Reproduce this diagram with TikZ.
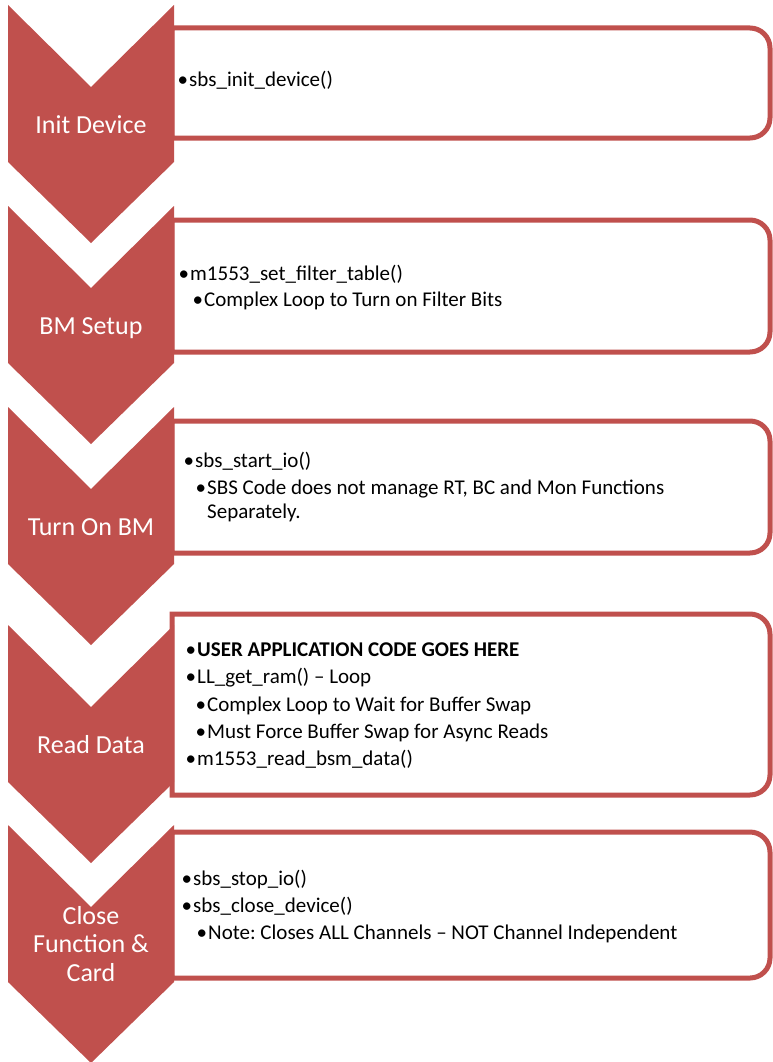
\documentclass[tikz,border=0pt]{standalone}
\usepackage{fontspec}
\setmainfont{Carlito}
\usetikzlibrary{positioning}
\definecolor{chevred}{HTML}{C0504D}
\frenchspacing

\begin{document}
\begin{tikzpicture}[x=1pt,y=-1pt,
	chev/.style={fill=chevred},
	stepbox/.style={draw=chevred,line width=5pt,fill=white},
	steplbl/.style={text=white,inner sep=0pt,align=center,font=\fontsize{26}{28.5}\selectfont},
	item/.style={anchor=base west,inner sep=0pt,font=\fontsize{21}{24}\selectfont}]
		\useasboundingbox (0,0) rectangle (773,1062);
		% boxes on the right
		\draw [stepbox] (172,28) -- (750,28) .. controls (761,28) and (770,37) .. (770,48) -- (770,118) .. controls (770,129) and (761,138) .. (750,138) -- (172,138) -- cycle;
		\draw [stepbox] (172,220) -- (750,220) .. controls (761,220) and (770,229) .. (770,240) -- (770,332) .. controls (770,343) and (761,352) .. (750,352) -- (172,352) -- cycle;
		\draw [stepbox] (172,421) -- (750,421) .. controls (761,421) and (770,430) .. (770,441) -- (770,533) .. controls (770,544) and (761,553) .. (750,553) -- (172,553) -- cycle;
		\draw [stepbox] (172,614) -- (750,614) .. controls (761,614) and (770,623) .. (770,634) -- (770,775) .. controls (770,786) and (761,795) .. (750,795) -- (172,795) -- cycle;
		\draw [stepbox] (172,832) -- (750,832) .. controls (761,832) and (770,841) .. (770,852) -- (770,958) .. controls (770,969) and (761,978) .. (750,978) -- (172,978) -- cycle;
		% chevrons
		\fill [chev] (8,5) -- (91,87) -- (174,5) -- (174,162) -- (91,243) -- (8,162) -- cycle;
		\fill [chev] (8,206) -- (91,288) -- (174,206) -- (174,363) -- (91,444) -- (8,363) -- cycle;
		\fill [chev] (8,407) -- (91,489) -- (174,407) -- (174,564) -- (91,645) -- (8,564) -- cycle;
		\fill [chev] (8,625) -- (91,707) -- (174,625) -- (174,782) -- (91,863) -- (8,782) -- cycle;
		\fill [chev] (8,825) -- (91,907) -- (174,825) -- (174,982) -- (91,1063) -- (8,982) -- cycle;
		\node [steplbl,anchor=base] (init) at (91,133) {Init Device};
		\node [steplbl,anchor=base] (setup) at (91,334) {BM Setup};
		\node [steplbl,anchor=base] (turnon) at (91,535) {Turn On BM};
		\node [steplbl,anchor=base] (read) at (91,753) {Read Data};
		\node [steplbl] (close) at (91,944) {Close\\Function \&\\Card};
		% texts
		\node [item] (t1a) at (189,87) {\llap{•\hspace{1pt}}sbs\_init\_device()};
		\node [item] (t2a) at (190,280) {\llap{•\hspace{1pt}}m1553\_set\_filter\_table()};
		\node [item] (t2b) at (204,306) {\llap{•\hspace{1pt}}Complex Loop to Turn on Filter Bits};
		\node [item] (t3a) at (195,467) {\llap{•\hspace{1pt}}sbs\_start\_io()};
		\node [item] (t3b) at (207,494) {\llap{•\hspace{1pt}}SBS Code does not manage RT, BC and Mon Functions};
		\node [item] (t3c) at (207,518) {Separately.};
		\node [item] (t4a) at (197,656) {\llap{•\hspace{1pt}}\textbf{USER APPLICATION CODE GOES HERE}};
		\node [item] (t4b) at (197,683) {\llap{•\hspace{1pt}}LL\_get\_ram() – Loop};
		\node [item] (t4c) at (207,711) {\llap{•\hspace{1pt}}Complex Loop to Wait for Buffer Swap};
		\node [item] (t4d) at (207,738) {\llap{•\hspace{1pt}}Must Force Buffer Swap for Async Reads};
		\node [item] (t4e) at (197,765) {\llap{•\hspace{1pt}}m1553\_read\_bsm\_data()};
		\node [item] (t5a) at (193,885) {\llap{•\hspace{1pt}}sbs\_stop\_io()};
		\node [item] (t5b) at (193,912) {\llap{•\hspace{1pt}}sbs\_close\_device()};
		\node [item] (t5c) at (208,939) {\llap{•\hspace{1pt}}Note: Closes ALL Channels – NOT Channel Independent};
\end{tikzpicture}
\end{document}
